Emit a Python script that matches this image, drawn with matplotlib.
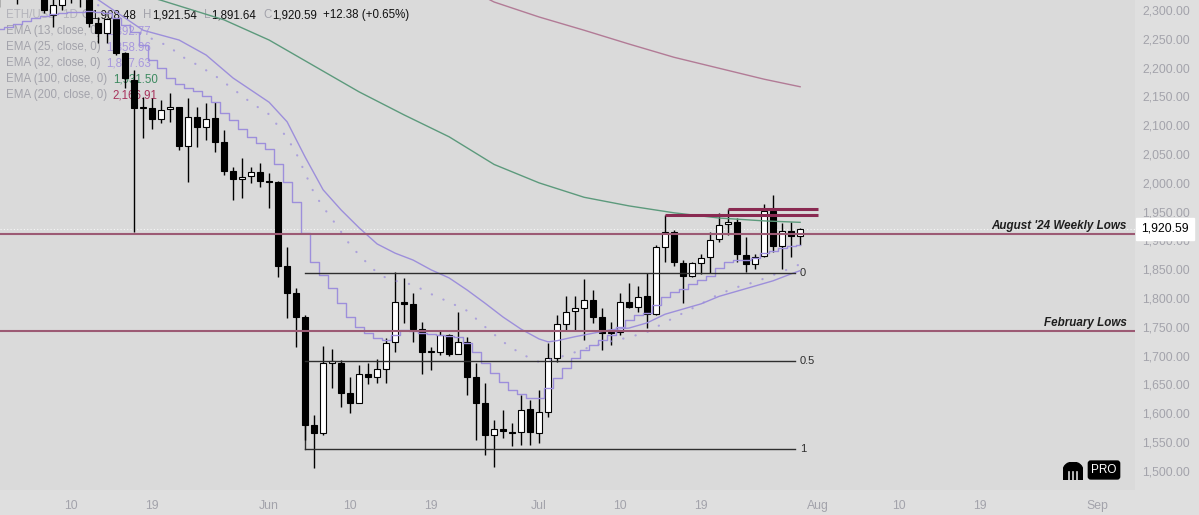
import pandas as pd
import matplotlib
matplotlib.use("Agg")
import matplotlib.pyplot as plt
import matplotlib.dates as mdates
from matplotlib.ticker import FuncFormatter
from matplotlib.patches import Wedge, Rectangle

YEAR = "2026"

# daily candles, 2 May .. 30 Jul
first_day = "2026-05-02"
opens = [2330, 2345, 2335, 2350, 2360, 2340, 2291, 2308, 2325, 2345,
         2330, 2278, 2260, 2284, 2225, 2179, 2130, 2130, 2111, 2128,
         2132, 2064, 2114, 2097, 2112, 2071, 2021, 2007, 2012, 2019,
         2003, 2002, 1856, 1809, 1767, 1580, 1566, 1688, 1688, 1635,
         1618, 1669, 1663, 1677, 1724, 1793, 1790, 1746, 1707, 1706,
         1736, 1703, 1724, 1663, 1618, 1562, 1573, 1567, 1567, 1607,
         1565, 1603, 1696, 1755, 1777, 1782, 1796, 1767, 1740, 1741,
         1793, 1784, 1803, 1772, 1889, 1915, 1861, 1839, 1861, 1871,
         1902, 1929, 1932, 1875, 1859, 1873, 1951, 1890, 1916, 1908.48]
highs = [2360, 2370, 2375, 2390, 2380, 2355, 2320, 2340, 2370, 2380,
         2345, 2288, 2286, 2286, 2227, 2196, 2149, 2148, 2144, 2156,
         2132, 2148, 2131, 2139, 2140, 2092, 2028, 2043, 2028, 2035,
         2017, 2004, 1889, 1817, 1771, 1597, 1717, 1711, 1693, 1663,
         1684, 1687, 1694, 1731, 1845, 1835, 1809, 1758, 1715, 1745,
         1738, 1776, 1732, 1687, 1653, 1588, 1605, 1583, 1632, 1623,
         1640, 1722, 1770, 1803, 1803, 1833, 1814, 1783, 1758, 1809,
         1826, 1821, 1843, 1892, 1945, 1918, 1866, 1863, 1877, 1915,
         1948, 1955, 1939, 1906, 1876, 1963, 1979, 1930, 1932, 1921.54]
lows = [2306, 2322, 2310, 2325, 2320, 2295, 2270, 2300, 2312, 2305,
        2271, 2243, 2243, 2222, 2165, 1915, 2078, 2094, 2104, 2106,
        2057, 2001, 2062, 2074, 2054, 2014, 1970, 1974, 2000, 1993,
        1956, 1837, 1765, 1715, 1554, 1505, 1562, 1644, 1611, 1600,
        1617, 1650, 1653, 1653, 1706, 1757, 1724, 1668, 1675, 1701,
        1699, 1703, 1632, 1553, 1528, 1507, 1557, 1543, 1545, 1545,
        1548, 1593, 1689, 1745, 1745, 1727, 1757, 1710, 1718, 1736,
        1783, 1776, 1748, 1771, 1862, 1856, 1791, 1837, 1842, 1844,
        1897, 1910, 1862, 1845, 1850, 1871, 1880, 1850, 1871, 1891.64]
closes = [2345, 2335, 2350, 2360, 2340, 2300, 2308, 2325, 2345, 2330,
          2278, 2260, 2284, 2225, 2182, 2130, 2131, 2111, 2126, 2132,
          2064, 2114, 2097, 2111, 2071, 2021, 2007, 2010, 2019, 2003,
          2002, 1856, 1809, 1767, 1580, 1566, 1687, 1690, 1635, 1618,
          1668, 1663, 1677, 1722, 1793, 1790, 1746, 1706, 1708, 1736,
          1703, 1724, 1663, 1618, 1562, 1572, 1569, 1566, 1605, 1567,
          1603, 1696, 1755, 1776, 1782, 1796, 1767, 1739, 1741, 1793,
          1784, 1802, 1772, 1889, 1915, 1863, 1839, 1861, 1870, 1901,
          1927, 1932, 1876, 1859, 1871, 1951, 1890, 1916, 1908, 1920.59]

# EMA 13, one value per candle (drawn as a step line)
ema13 = [2267, 2271, 2276, 2281, 2286, 2290, 2293, 2295, 2297, 2297,
         2298, 2297, 2295, 2286, 2274, 2262, 2239, 2213, 2199, 2182,
         2172, 2165, 2160, 2151, 2141, 2122, 2110, 2093, 2079, 2070,
         2058, 2032, 2002, 1967, 1913, 1863, 1840, 1817, 1791, 1767,
         1750, 1739, 1731, 1727, 1736, 1745, 1743, 1739, 1738, 1736,
         1734, 1732, 1722, 1706, 1687, 1670, 1654, 1640, 1634, 1627,
         1627, 1644, 1661, 1679, 1696, 1710, 1719, 1727, 1736, 1750,
         1762, 1771, 1774, 1788, 1802, 1811, 1816, 1825, 1831, 1838,
         1852, 1863, 1866, 1866, 1870, 1878, 1882, 1887, 1890, 1892.77]

ema25_days = ["05-11", "05-15", "05-18", "05-21", "05-22", "05-24", "05-26", "05-28",
              "05-30", "06-01", "06-03", "06-04", "06-05", "06-06", "06-07", "06-08",
              "06-09", "06-10", "06-11", "06-12", "06-13", "06-14", "06-15", "06-17",
              "06-19", "06-21", "06-23", "06-25", "06-27", "06-29", "07-01", "07-03",
              "07-05", "07-07", "07-09", "07-11", "07-13", "07-15", "07-17", "07-19",
              "07-21", "07-23", "07-25", "07-27", "07-29", "07-30"]
ema25 = [2326, 2291, 2257, 2236, 2222, 2205, 2186, 2163, 2139, 2119, 2078, 2052,
         2017, 1982, 1958, 1937, 1915, 1892, 1875, 1859, 1844, 1835, 1830, 1823,
         1807, 1793, 1778, 1750, 1724, 1703, 1689, 1696, 1706, 1717, 1725, 1732,
         1741, 1758, 1774, 1790, 1807, 1819, 1828, 1840, 1852, 1858.96]

ema32_days = ["05-09", "05-13", "05-18", "05-22", "05-25", "05-28", "05-30", "06-01",
              "06-03", "06-05", "06-07", "06-09", "06-11", "06-13", "06-15", "06-17",
              "06-19", "06-21", "06-23", "06-25", "06-27", "06-29", "07-01", "07-02",
              "07-03", "07-05", "07-07", "07-09", "07-11", "07-13", "07-15", "07-17",
              "07-19", "07-21", "07-23", "07-25", "07-27", "07-29", "07-30"]
ema32 = [2345, 2318, 2265, 2248, 2222, 2182, 2161, 2140, 2106, 2045, 1988, 1953,
         1922, 1894, 1878, 1866, 1849, 1835, 1814, 1791, 1767, 1746, 1729, 1724,
         1726, 1733, 1739, 1745, 1748, 1757, 1772, 1781, 1790, 1803, 1812, 1821,
         1830, 1842, 1847.63]

ema100_days = ["05-17", "05-20", "05-27", "06-01", "06-06", "06-11", "06-16", "06-21",
               "06-26", "07-01", "07-06", "07-11", "07-16", "07-21", "07-26", "07-30"]
ema100 = [2330, 2317, 2283, 2248, 2203, 2158, 2118, 2080, 2032, 2000, 1975, 1960,
          1948, 1939, 1934, 1931.50]

ema200_days = ["06-25", "06-26", "07-01", "07-06", "07-11", "07-16", "07-21", "07-26", "07-30"]
ema200 = [2322, 2314, 2288, 2265, 2241, 2218, 2199, 2180, 2166.91]

aug24_low = 1912
feb_low = 1743
fib_labels = ["0", "0.5", "1"]
fib_prices = [1844, 1691, 1538]
fib_start, fib_end = "06-05", "07-29 10:00"
res_prices = [1945, 1955]
res_starts = ["07-15", "07-22"]
res_end = "08-01"

ema_names = ["EMA (13, close, 0)", "EMA (25, close, 0)", "EMA (32, close, 0)",
             "EMA (100, close, 0)", "EMA (200, close, 0)"]
ema_last = [1892.77, 1858.96, 1847.63, 1931.50, 2166.91]
chg, chg_pct = 12.38, 0.65

xtick_days = ["05-10", "05-19", "06-01", "06-10", "06-19", "07-01",
              "07-10", "07-19", "08-01", "08-10", "08-19", "09-01"]
xtick_labels = ["10", "19", "Jun", "10", "19", "Jul", "10", "19", "Aug", "10", "19", "Sep"]

PURPLE = "#9d8fdb"
GREEN = "#5c9a7c"
MAUVE = "#b27b96"
MAROON = "#9c5a74"
DARK_MAROON = "#8a2a52"
GREY_TXT = "#a3a3ab"
plt.rcParams["font.family"] = ["Liberation Sans", "DejaVu Sans"]


def d(s):
    return mdates.date2num(pd.Timestamp(f"{YEAR}-{s}"))


def dd(lst):
    return [d(s) for s in lst]


fig = plt.figure(figsize=(11.99, 5.15), dpi=100, facecolor="#dfdfdf")
ax = fig.add_axes([0, 25 / 515, 1135 / 1199, 490 / 515])
ax.set_facecolor("#dadada")

x = mdates.date2num(pd.date_range(first_day, periods=len(opens), freq="D"))

# candles
ax.vlines(x, lows, highs, color="black", lw=1.0, zorder=3)
body_lo = [min(o, c) for o, c in zip(opens, closes)]
body_h = [max(abs(c - o), 1.8) for o, c in zip(opens, closes)]
fill = ["white" if c >= o else "black" for o, c in zip(opens, closes)]
ax.bar(x, body_h, bottom=body_lo, width=0.7, color=fill, edgecolor="black",
       linewidth=0.8, zorder=4)

# EMAs
ax.step(x, ema13, where="mid", color=PURPLE, lw=1.0, zorder=5)
ax.plot(dd(ema25_days), ema25, color=PURPLE, lw=1.6, alpha=0.75,
        linestyle=(0, (0.1, 5.6)), dash_capstyle="round", zorder=5)
ax.plot(dd(ema32_days), ema32, color=PURPLE, lw=1.0, zorder=5)
ax.plot(dd(ema100_days), ema100, color=GREEN, lw=1.0, zorder=5)
ax.plot(dd(ema200_days), ema200, color=MAUVE, lw=1.0, zorder=5)

# horizontal levels
ax.axhline(closes[-1], color="white", lw=0.8, ls=(0, (1, 2)), alpha=0.8, zorder=2)
blend = ax.get_yaxis_transform()
for price, label in [(aug24_low, "August '24 Weekly Lows"), (feb_low, "February Lows")]:
    ax.axhline(price, color=MAROON, lw=1.5, zorder=5)
    ax.annotate(label, xy=(1127 / 1135, price), xycoords=blend, xytext=(0, 3.6),
                textcoords="offset points", ha="right", va="baseline",
                fontsize=8.4, fontweight="bold", fontstyle="italic", color="#1e1e1e")

# fib retracement
for lab, price in zip(fib_labels, fib_prices):
    ax.plot([d(fib_start), d(fib_end)], [price, price], color="#2e2e2e", lw=1.0, zorder=5)
    ax.annotate(lab, xy=(d(fib_end), price), xytext=(3.5, 0), textcoords="offset points",
                ha="left", va="center", fontsize=8, color="#2e2e2e")
ax.plot([d(fib_start), d(fib_start)], [fib_prices[2], fib_prices[1]], color="#2e2e2e",
        lw=1.0, zorder=2)

# resistance rays from the two highs
for price, s in zip(res_prices, res_starts):
    ax.plot([d(s), d(res_end)], [price, price], color=DARK_MAROON, lw=2.2,
            solid_capstyle="butt", zorder=6)

ax.set_xlim(d("05-02 02:24"), d("09-05 05:00"))
ax.set_ylim(1466.8, 2317.5)
for sp in ax.spines.values():
    sp.set_visible(False)

ax.yaxis.tick_right()
ax.set_yticks(range(1500, 2301, 50))
ax.yaxis.set_major_formatter(FuncFormatter(lambda v, p: f"{v:,.2f}"))
ax.tick_params(axis="y", length=0, pad=5, labelsize=8.8, labelcolor=GREY_TXT)
ax.set_xticks(dd(xtick_days))
ax.set_xticklabels(xtick_labels)
ax.tick_params(axis="x", length=0, pad=7, labelsize=8.8, labelcolor=GREY_TXT)

# last price tag
ax.annotate(f"{closes[-1]:,.2f}", xy=(1.0, closes[-1]), xycoords=blend, xytext=(4.5, 0),
            textcoords="offset points", ha="left", va="center", fontsize=8.8,
            color="black", annotation_clip=False, zorder=10,
            bbox=dict(boxstyle="square,pad=0.4", fc="white", ec="white"))


# legend block top-left
def chain(pieces, y_px):
    prev = None
    for txt, color, gap, weight in pieces:
        kw = dict(va="baseline", ha="left", color=color, fontsize=8.3,
                  fontweight=weight, zorder=1, annotation_clip=False)
        if prev is None:
            prev = ax.annotate(txt, xy=(6 / 1135, 1 - y_px / 490),
                               xycoords="axes fraction", **kw)
        else:
            prev = ax.annotate(txt, xy=(1, 1 - y_px / 490),
                               xycoords=(prev, "axes fraction"), xytext=(gap, 0),
                               textcoords="offset points", **kw)


row1 = [("ETH/USD  1D", "#b4b4bb", 0, "normal"),
        ("O", GREY_TXT, 2.5, "normal"), (f"{opens[-1]:,.2f}", "#111111", 0.6, "medium"),
        ("H", GREY_TXT, 5, "normal"), (f"{highs[-1]:,.2f}", "#111111", 0.6, "medium"),
        ("L", GREY_TXT, 5, "normal"), (f"{lows[-1]:,.2f}", "#111111", 0.6, "medium"),
        ("C", GREY_TXT, 5, "normal"), (f"{closes[-1]:,.2f}", "#111111", 0.6, "medium"),
        (f"+{chg:.2f} (+{chg_pct:.2f}%)", "#111111", 4, "medium")]
chain(row1, 18)
value_colors = ["#a898de", "#a898de", "#a898de", "#3d8a60", "#a8325c"]
for i, (name, val, col) in enumerate(zip(ema_names, ema_last, value_colors)):
    chain([(name, GREY_TXT, 0, "normal"), (f"{val:,.2f}", col, 4, "normal")], 34 + 16 * i)

# exchange badge
lax = fig.add_axes([1063 / 1199, 35 / 515, 20 / 1199, 18 / 515])
lax.set_xlim(0, 1)
lax.set_ylim(0, 1)
lax.axis("off")
lax.add_patch(Wedge((0.5, 0.5), 0.5, 0, 180, color="black"))
lax.add_patch(Rectangle((0, 0), 1, 0.5, color="black"))
for gx in (0.3, 0.5, 0.7):
    lax.plot([gx, gx], [0, 0.42], color="#dadada", lw=1.2)
fig.text(1104 / 1199, 1 - 470 / 515, "PRO", ha="center", va="center", color="white",
         fontsize=8.5, bbox=dict(boxstyle="round,pad=0.25,rounding_size=0.2",
                                 fc="black", ec="black"))

fig.savefig("out.png", dpi=100, facecolor=fig.get_facecolor())
